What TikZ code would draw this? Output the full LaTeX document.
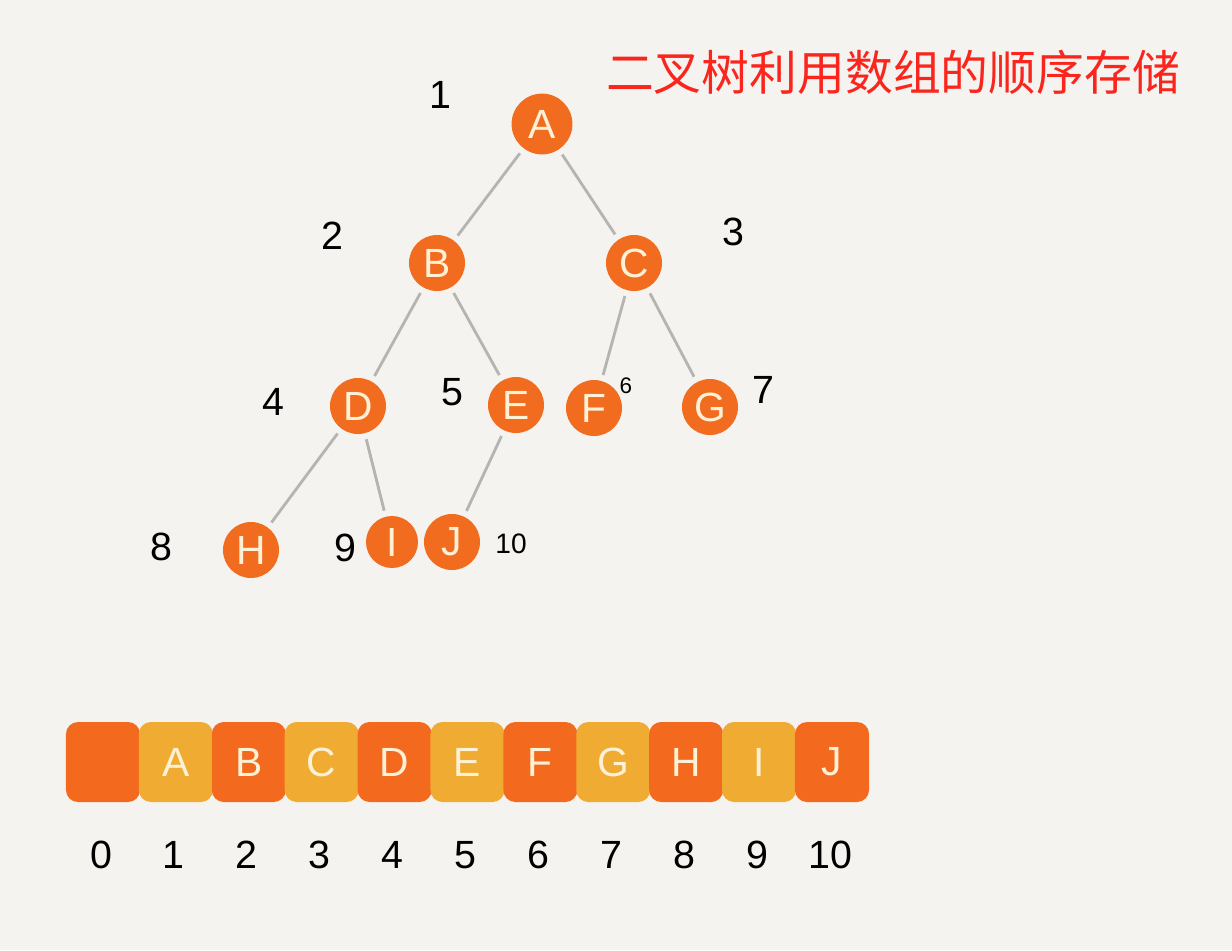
\documentclass[tikz,border=0pt]{standalone}
\usepackage{fontspec}
\setmainfont{Liberation Sans}
\newfontfamily\cjk{Noto Sans CJK SC}
\usetikzlibrary{positioning}
\definecolor{paper}{RGB}{245,243,239}
\definecolor{treeorange}{RGB}{242,108,32}
\definecolor{cellorange}{RGB}{243,106,30}
\definecolor{cellyellow}{RGB}{240,172,50}
\definecolor{lettercream}{RGB}{255,241,214}
\definecolor{edgegray}{RGB}{180,180,177}
\definecolor{titlered}{RGB}{250,38,30}
\tikzset{
    treenode/.style={
        circle,
        fill=treeorange,
        minimum size=1.4cm,
        inner sep=0pt,
        text=lettercream,
        font=\fontsize{29}{29}\selectfont
    },
    cell/.style={
        rectangle,
        rounded corners=0.3cm,
        minimum width=1.85cm,
        minimum height=2cm,
        inner sep=0pt,
        text=lettercream,
        font=\fontsize{29}{29}\selectfont
    },
    idx/.style={
        text=black,
        inner sep=0pt,
        font=\fontsize{28}{28}\selectfont
    },
    edge/.style={
        draw=edgegray,
        line width=2pt,
        shorten <=0.15cm,
        shorten >=0.15cm
    }
}
\begin{document}
\begin{tikzpicture}[x=0.025cm, y=-0.025cm]
    % paper
    \fill[paper] (0,0) rectangle (1232,950);
    \useasboundingbox (0,0) rectangle (1232,950);

    % title
    \node[text=titlered, font=\cjk\fontsize{34}{34}\selectfont, inner sep=0pt]
        (title) at (893,72) {二叉树利用数组的顺序存储};

    % tree nodes
    \node[treenode, minimum size=1.52cm] (A) at (542,124) {A};
    \node[treenode] (B) at (437,263) {B};
    \node[treenode] (C) at (634,263) {C};
    \node[treenode] (D) at (358,406) {D};
    \node[treenode] (E) at (516,405) {E};
    \node[treenode] (F) at (594,408) {F};
    \node[treenode] (G) at (710,407) {G};
    \node[treenode] (H) at (251,550) {H};
    \node[treenode, minimum size=1.3cm] (I) at (392,542) {I};
    \node[treenode] (J) at (452,542) {J};

    % tree edges
    \foreach \u/\v in {A/B, A/C, B/D, B/E, C/F, C/G, D/H, D/I, E/J}
        \draw[edge] (\u) -- (\v);

    % tree indices
    \node[idx] (n1) at (440,95) {1};
    \node[idx] (n2) at (332,236) {2};
    \node[idx] (n3) at (733,232) {3};
    \node[idx] (n4) at (273,402) {4};
    \node[idx] (n5) at (452,392) {5};
    \node[idx, font=\fontsize{16}{16}\selectfont] (n6) at (626,386) {6};
    \node[idx] (n7) at (763,390) {7};
    \node[idx] (n8) at (161,547) {8};
    \node[idx] (n9) at (345,548) {9};
    \node[idx, font=\fontsize{20}{20}\selectfont] (n10) at (511,544) {10};

    % array
    \foreach \i/\txt/\col in {
        0//cellorange,
        1/A/cellyellow,
        2/B/cellorange,
        3/C/cellyellow,
        4/D/cellorange,
        5/E/cellyellow,
        6/F/cellorange,
        7/G/cellyellow,
        8/H/cellorange,
        9/I/cellyellow,
        10/J/cellorange%
    } {
        \node[cell, fill=\col] (cell\i) at ({103+72.9*\i},762) {\txt};
        \node[idx] (pos\i) at ({101+72.9*\i},855) {\i};
    }
\end{tikzpicture}
\end{document}
